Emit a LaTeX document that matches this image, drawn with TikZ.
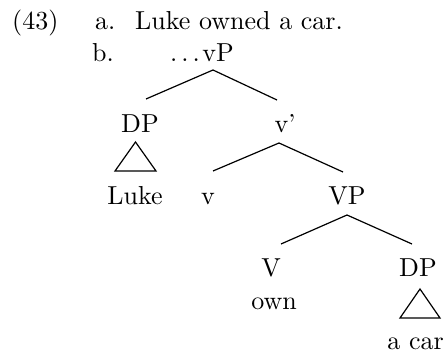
\documentclass[tikz,border=0pt]{standalone}
\usepackage{fontspec}
\setmainfont{lmroman10-regular.otf}
\begin{document}
\begin{tikzpicture}[x=1pt,y=1pt,
  lbl/.style={inner sep=0pt,anchor=base,font=\fontsize{26}{30}\selectfont},
  lblw/.style={inner sep=0pt,anchor=base west,font=\fontsize{26}{30}\selectfont},
  branch/.style={line width=1.2pt},
  roof/.style={line width=1.2pt,line join=miter}]
\useasboundingbox (0,0) rectangle (445,-358);
% header
\node[lblw] (num) at (12,-30) {(43)};
\node[lblw] (a) at (95,-30) {a.};
\node[lblw] (sent) at (135,-30) {Luke owned a car.};
\node[lblw] (b) at (92,-62) {b.};
% tree labels
\node[lbl] (vP) at (218,-62) {vP};
\node[inner sep=0pt,anchor=base east,font=\fontsize{26}{30}\selectfont] (dots) at ([xshift=-2pt]vP.base west) {.\kern4pt.\kern4pt.};
\node[lbl] (DPa) at (140,-133) {DP};
\node[lbl] (vbar) at (285,-133) {v’};
\node[lbl] (luke) at (135,-205) {Luke};
\node[lbl] (v) at (208,-205) {v};
\node[lbl] (VP) at (347,-205) {VP};
\node[lbl] (V) at (271,-277) {V};
\node[lbl] (own) at (274,-310) {own};
\node[lbl] (DPb) at (418,-277) {DP};
\node[inner sep=0pt,anchor=base east,font=\fontsize{26}{30}\selectfont] (car) at (444,-350) {a car};
% branch points
\coordinate (vPb) at (213,-70);
\coordinate (DPat) at (146,-99);
\coordinate (vbart) at (277,-100);
\coordinate (vbarb) at (279,-143);
\coordinate (vt) at (213,-171);
\coordinate (VPt) at (343,-172);
\coordinate (VPb) at (347,-215);
\coordinate (Vt) at (281,-244);
\coordinate (DPbt) at (412,-244);
\draw[branch] (DPat) -- (vPb) -- (vbart);
\draw[branch] (vt) -- (vbarb) -- (VPt);
\draw[branch] (Vt) -- (VPb) -- (DPbt);
% roofs
\draw[roof] (135.5,-142) -- (156,-171) -- (115,-171) -- cycle;
\draw[roof] (420,-289) -- (440,-318) -- (400,-318) -- cycle;
\end{tikzpicture}
\end{document}
